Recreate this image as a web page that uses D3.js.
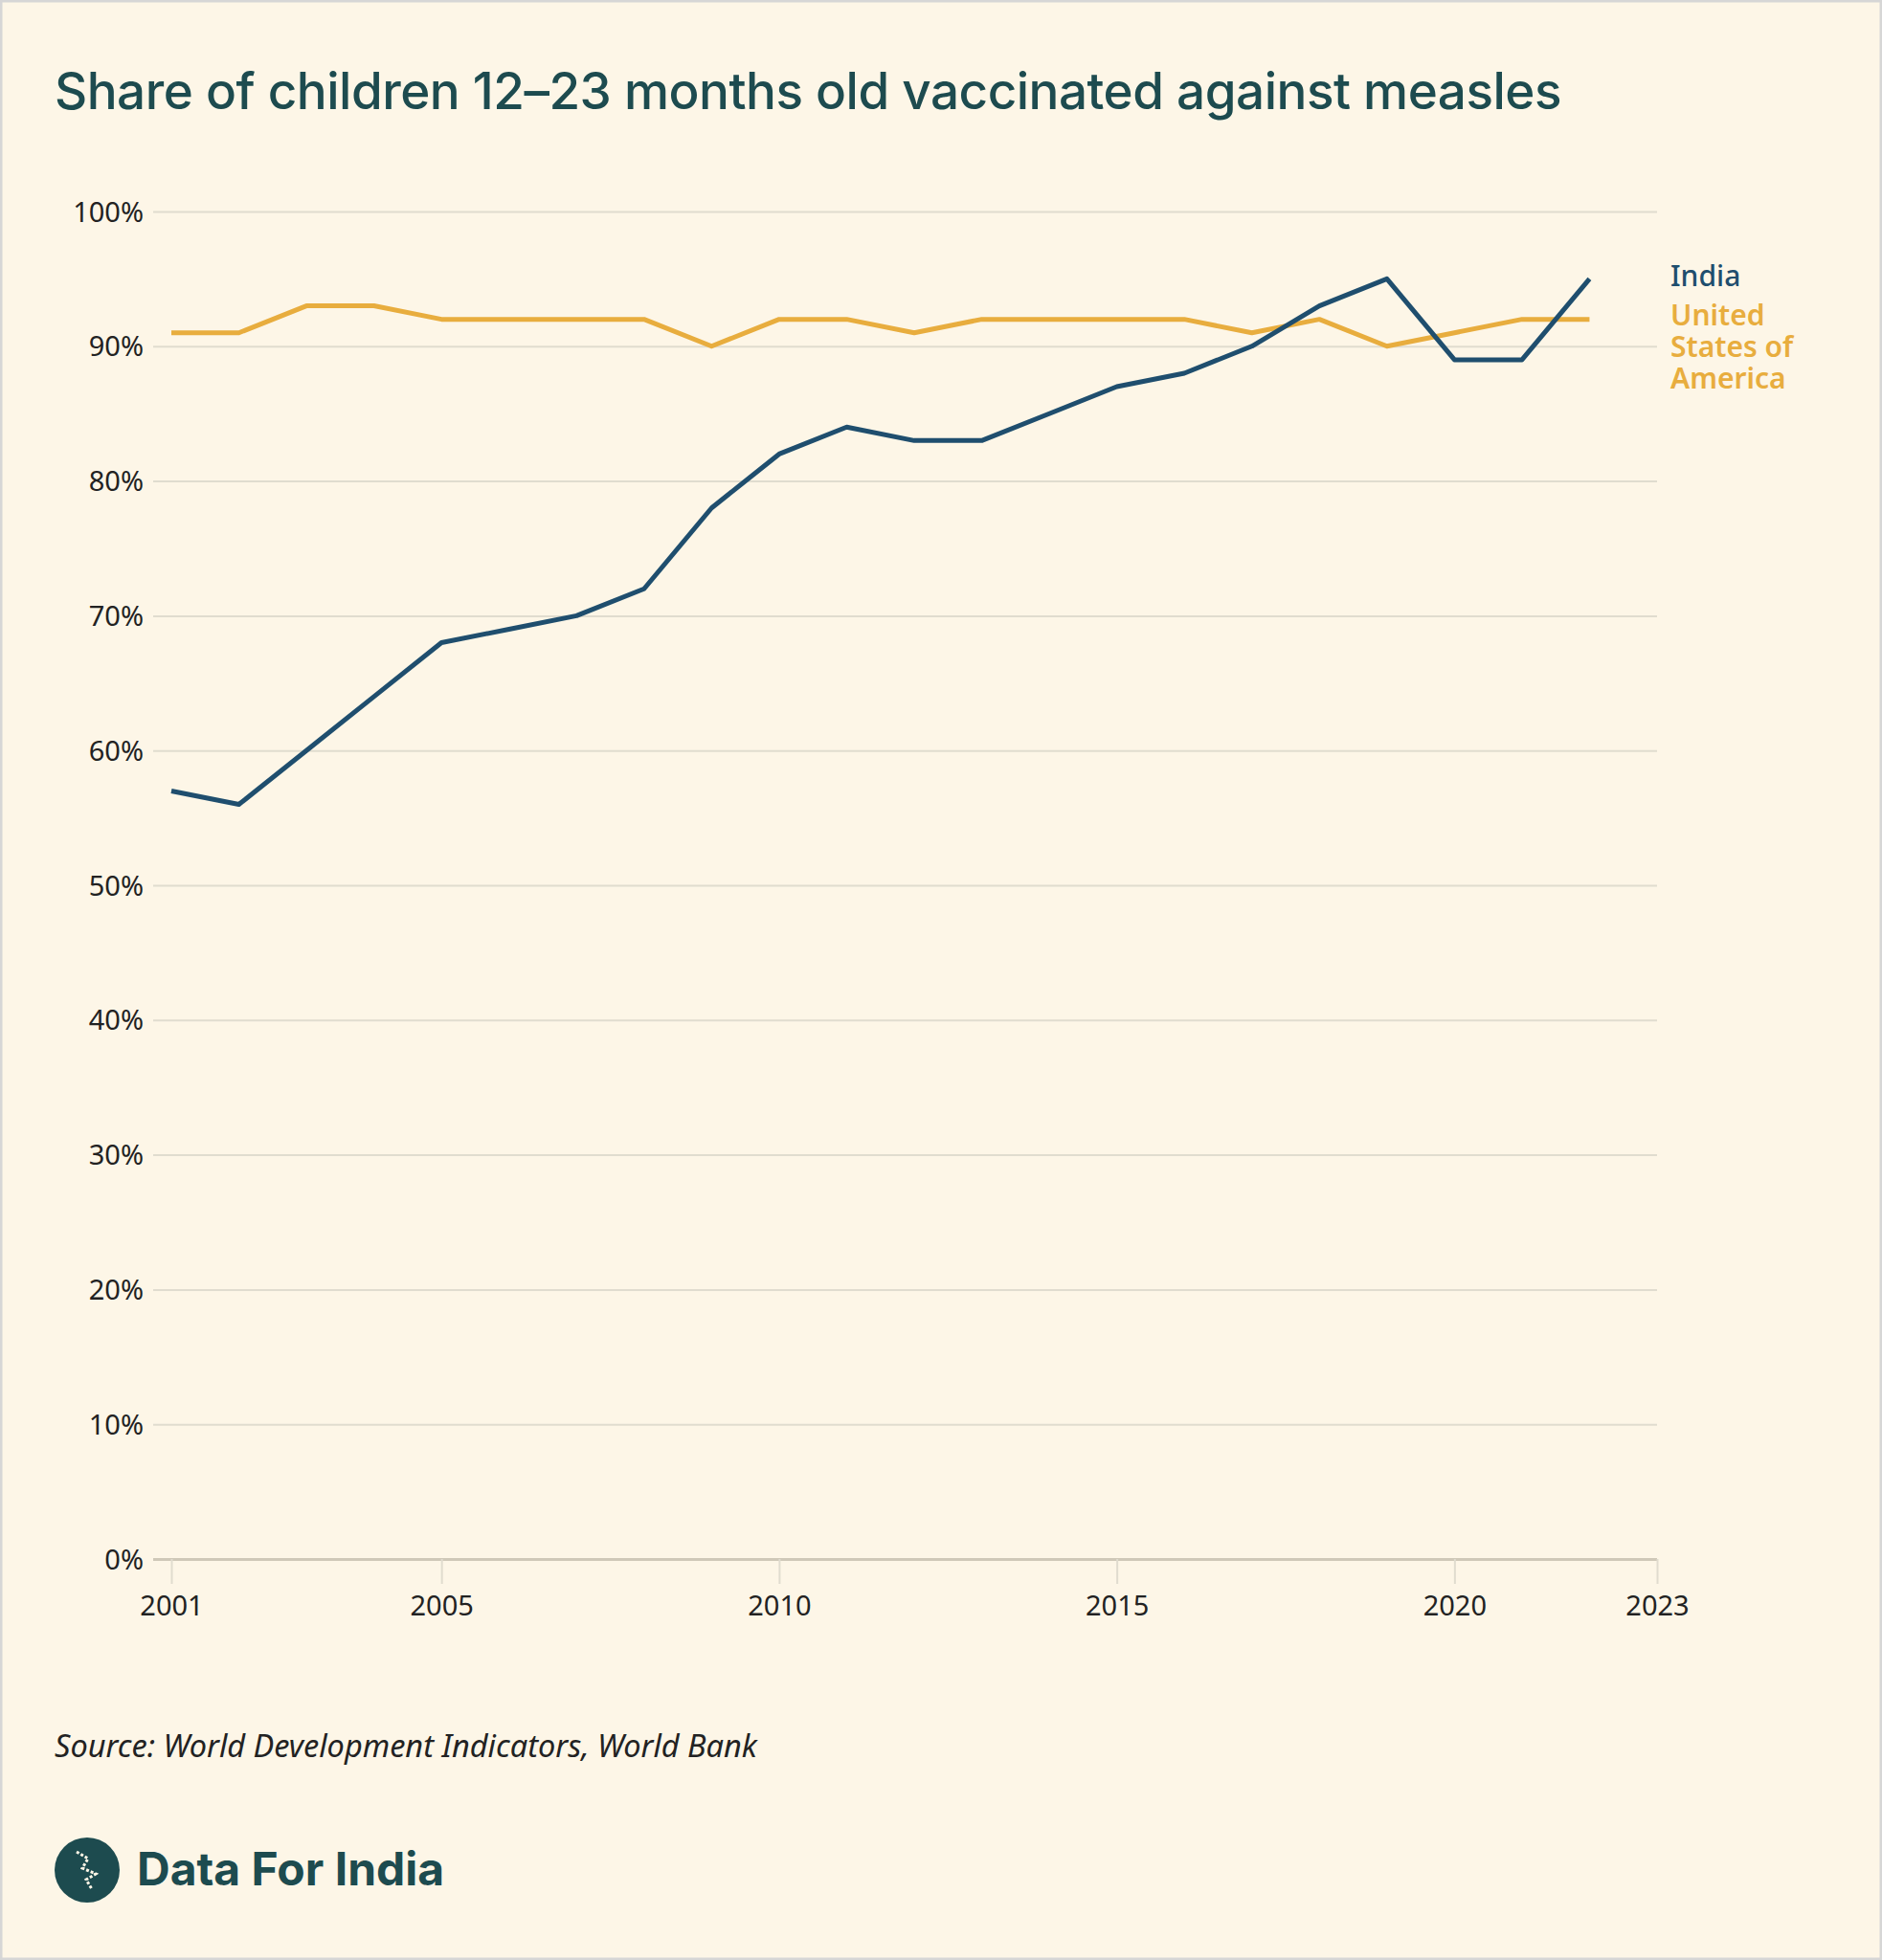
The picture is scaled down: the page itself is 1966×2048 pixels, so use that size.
<!DOCTYPE html>
<html>
<head>
<meta charset="utf-8">
<script src="https://cdn.jsdelivr.net/npm/d3@7"></script>
<style>
  body { margin: 0; background: #fff; }
  svg { display: block; }
</style>
</head>
<body>
<svg id="chart" width="1966" height="2048"></svg>
<script>
const years = [2001,2002,2003,2004,2005,2006,2007,2008,2009,2010,2011,2012,2013,2014,2015,2016,2017,2018,2019,2020,2021,2022];
const india = [57,56,60,64,68,69,70,72,78,82,84,83,83,85,87,88,90,93,95,89,89,95];
const usa = [91,91,93,93,92,92,92,92,90,92,92,91,92,92,92,92,91,92,90,91,92,92];
const yTicks = [0,10,20,30,40,50,60,70,80,90,100];
const xTicks = [2001,2005,2010,2015,2020,2023];

const svg = d3.select("#chart");
svg.append("rect").attr("x", 1).attr("y", 1).attr("width", 1964).attr("height", 2046)
  .attr("fill", "#fdf6e7").attr("stroke", "#d6d6d6").attr("stroke-width", 3);

svg.append("text").attr("x", 57).attr("y", 114)
  .attr("font-family", "Inter, 'Noto Sans', sans-serif").attr("font-size", 53)
  .attr("font-weight", 500).attr("fill", "#1d4b4f").attr("letter-spacing", -0.5)
  .text("Share of children 12–23 months old vaccinated against measles");

const x = d3.scaleLinear().domain([2001, 2023]).range([179, 1731]);
const y = d3.scaleLinear().domain([0, 100]).range([1629, 221]);

// grid + y labels
const yAxis = svg.append("g")
  .call(d3.axisLeft(y).tickValues(yTicks).tickSize(0).tickFormat(d => d + "%"));
yAxis.select(".domain").remove();
yAxis.selectAll("text").attr("x", 150).attr("dy", "0.35em")
  .attr("font-family", "'Noto Sans', sans-serif").attr("font-size", 29).attr("fill", "#222");
yAxis.selectAll(".tick").append("line").attr("x1", 160).attr("x2", 1731)
  .attr("stroke", "#e0dccf").attr("stroke-width", 2);
yAxis.selectAll(".tick").filter(d => d === 0).select("line:last-of-type")
  .attr("stroke", "#cfc8b8").attr("stroke-width", 3);

const xAxis = svg.append("g").attr("transform", `translate(0,${y(0)})`)
  .call(d3.axisBottom(x).tickValues(xTicks).tickSize(26).tickFormat(d3.format("d")));
xAxis.select(".domain").remove();
xAxis.selectAll("line").attr("stroke", "#e0dccf").attr("stroke-width", 2);
xAxis.selectAll("text").attr("y", 38).attr("dy", "0.71em")
  .attr("font-family", "'Noto Sans', sans-serif").attr("font-size", 29).attr("fill", "#222");

const line = d3.line().x((d, i) => x(years[i])).y(d => y(d));
svg.append("path").datum(usa).attr("d", line).attr("fill", "none")
  .attr("stroke", "#e8ad3e").attr("stroke-width", 5).attr("stroke-linejoin", "round");
svg.append("path").datum(india).attr("d", line).attr("fill", "none")
  .attr("stroke", "#1f4e6e").attr("stroke-width", 5).attr("stroke-linejoin", "round");

const lf = "'Noto Sans', sans-serif";
svg.append("text").attr("x", 1745).attr("y", 299).attr("font-family", lf).attr("font-size", 30)
  .attr("font-weight", 500).attr("fill", "#1f4e6e").text("India");
["United", "States of", "America"].forEach((t, i) => {
  svg.append("text").attr("x", 1745).attr("y", 340 + i * 33).attr("font-family", lf)
    .attr("font-size", 30).attr("font-weight", 600).attr("fill", "#e8ad3e").text(t);
});

svg.append("text").attr("x", 57).attr("y", 1836).attr("font-family", lf).attr("font-size", 32.5)
  .attr("font-style", "italic").attr("fill", "#222").text("Source: World Development Indicators, World Bank");

svg.append("circle").attr("cx", 91).attr("cy", 1954).attr("r", 34).attr("fill", "#1d4b4f");
svg.append("path").attr("d", "M80 1935 L92 1942 L86 1952 L100 1958 L90 1964 L96 1974")
  .attr("fill", "none").attr("stroke", "#fdf6e7").attr("stroke-width", 3).attr("stroke-dasharray", "3 2");
svg.append("text").attr("x", 143).attr("y", 1970).attr("font-family", "Inter, 'Noto Sans', sans-serif")
  .attr("font-size", 48).attr("font-weight", 700).attr("fill", "#1d4b4f").text("Data For India");
</script>
</body>
</html>
